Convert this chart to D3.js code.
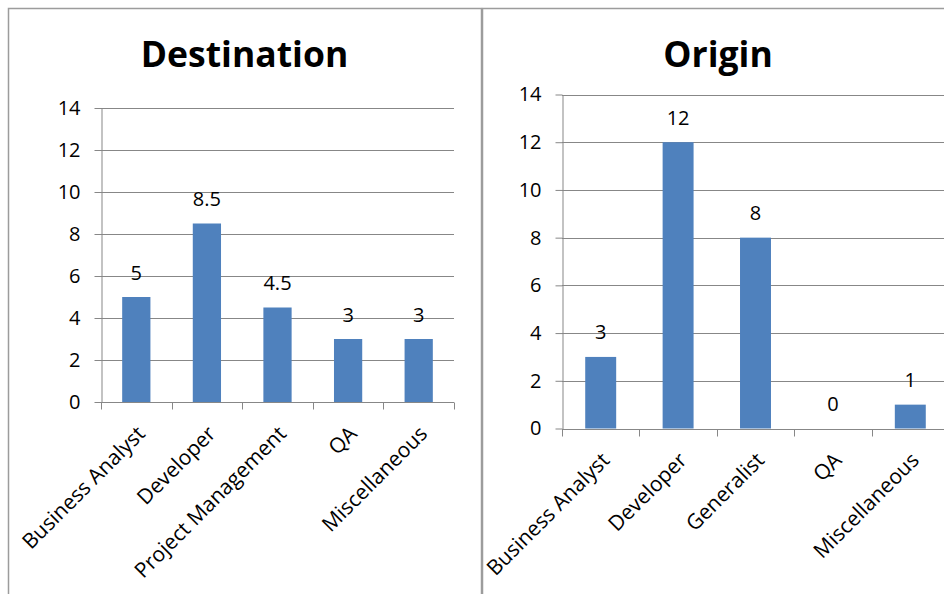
<!DOCTYPE html>
<html>
<head>
<meta charset="utf-8">
<script src="https://cdn.jsdelivr.net/npm/d3@7"></script>
<style>
  html, body { margin: 0; padding: 0; background: #fff; }
  svg { display: block; }
  text { font-family: "Open Sans", "DejaVu Sans", sans-serif; fill: #000; }
</style>
</head>
<body>
<svg id="chart" width="944" height="594"></svg>
<script>
// ---- data ----
const destCategories = ["Business Analyst", "Developer", "Project Management", "QA", "Miscellaneous"];
const destValues = [5, 8.5, 4.5, 3, 3];
const originCategories = ["Business Analyst", "Developer", "Generalist", "QA", "Miscellaneous"];
const originValues = [3, 12, 8, 0, 1];
const yTickValues = [0, 2, 4, 6, 8, 10, 12, 14];
const chartTitles = ["Destination", "Origin"];

const svg = d3.select("#chart");
svg.append("rect").attr("x", 0).attr("y", 0).attr("width", 944).attr("height", 594).attr("fill", "#fff");

const BAR = "#4F81BD";
const GRID = "#878787";
const BORDER = "#9c9c9c";

// panel borders
svg.append("rect").attr("x", 8.5).attr("y", 8.5).attr("width", 473).attr("height", 600)
  .attr("fill", "none").attr("stroke", BORDER).attr("stroke-width", 1.5);
svg.append("rect").attr("x", 482.5).attr("y", 8.5).attr("width", 480).attr("height", 600)
  .attr("fill", "none").attr("stroke", BORDER).attr("stroke-width", 1.5);

function drawChart(cfg) {
  const g = svg.append("g");
  const x = d3.scaleBand().domain(cfg.cats).range([cfg.x0, cfg.x1]).paddingInner(0.6).paddingOuter(0.3);
  const y = d3.scaleLinear().domain([0, 14]).range([cfg.yBottom, cfg.yTop]);

  // title
  g.append("text").attr("x", cfg.titleX).attr("y", 67).attr("text-anchor", "middle")
    .style("font-size", "35.5px").style("font-weight", "bold").text(cfg.title);

  // gridlines
  g.selectAll("line.grid").data(yTickValues).enter().append("line")
    .attr("x1", cfg.x0).attr("x2", cfg.x1)
    .attr("y1", d => Math.round(y(d)) + 0.5).attr("y2", d => Math.round(y(d)) + 0.5)
    .attr("stroke", GRID).attr("stroke-width", 1);

  // y axis
  const yAxis = d3.axisLeft(y).tickValues(yTickValues).tickSize(7).tickPadding(14).tickSizeOuter(0);
  const ya = g.append("g").attr("transform", `translate(${Math.round(cfg.x0) + 0.5},0)`).call(yAxis);
  ya.select(".domain").attr("stroke", GRID);
  ya.selectAll(".tick line").attr("stroke", GRID);
  ya.selectAll(".tick text").style("font-size", "20px").attr("fill", "#000")
    .style("font-family", "'Open Sans', sans-serif");

  // x axis baseline + ticks at band boundaries
  const yb = Math.round(y(0)) + 0.5;
  const half = x.step() * x.paddingInner() / 2;
  const bounds = cfg.cats.map(c => x(c) - half).concat([x(cfg.cats[cfg.cats.length - 1]) + x.bandwidth() + half]);
  g.append("line").attr("x1", cfg.x0).attr("x2", cfg.x1).attr("y1", yb).attr("y2", yb)
    .attr("stroke", GRID);
  g.selectAll("line.xt").data(bounds).enter().append("line")
    .attr("x1", d => Math.round(d) + 0.5).attr("x2", d => Math.round(d) + 0.5)
    .attr("y1", yb).attr("y2", yb + 7).attr("stroke", GRID);

  // bars
  g.selectAll("rect.bar").data(cfg.vals).enter().append("rect")
    .attr("x", (d, i) => x(cfg.cats[i]))
    .attr("width", x.bandwidth())
    .attr("y", d => y(d))
    .attr("height", d => y(0) - y(d))
    .attr("fill", BAR);

  // value labels
  g.selectAll("text.val").data(cfg.vals).enter().append("text")
    .attr("x", (d, i) => x(cfg.cats[i]) + x.bandwidth() / 2)
    .attr("y", d => y(d) - 17.5)
    .attr("text-anchor", "middle").style("font-size", "20px")
    .text(d => d);

  // category labels
  g.selectAll("text.cat").data(cfg.cats).enter().append("text")
    .attr("transform", c => `translate(${x(c) + x.bandwidth() / 2 + 10},${y(0) + 33}) rotate(-45)`)
    .attr("text-anchor", "end").style("font-size", "21px")
    .text(c => c);
}

drawChart({ title: chartTitles[0], cats: destCategories, vals: destValues,
  x0: 101, x1: 454, yTop: 108, yBottom: 402, titleX: 244.5 });
drawChart({ title: chartTitles[1], cats: originCategories, vals: originValues,
  x0: 562, x1: 949, yTop: 94.5, yBottom: 428.5, titleX: 718 });
</script>
</body>
</html>
